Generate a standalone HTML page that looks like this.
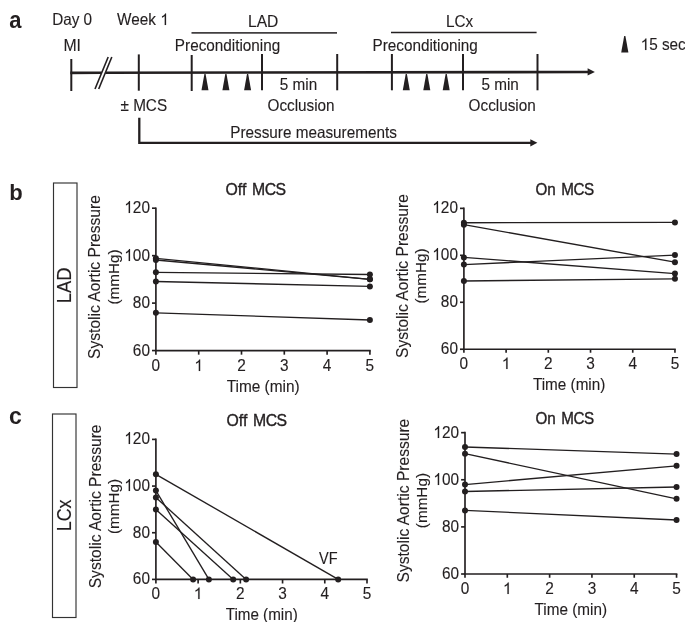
<!DOCTYPE html>
<html><head><meta charset="utf-8"><style>
html,body{margin:0;padding:0;background:#fff;width:685px;height:622px;overflow:hidden}
svg{display:block;will-change:transform}
text{font-family:"Liberation Sans",sans-serif;fill:#231f20;stroke:#231f20;stroke-width:0.12px}
.bold{stroke-width:0}
.one{fill:#231f20;stroke:#231f20;stroke-width:0.12px}
.t15{font-size:15.3px}
.tk{font-size:15.4px}
.yl{font-size:15.6px}
.tm{font-size:15px}
.vf{font-size:14.5px}
.ttl{font-size:15.7px;stroke-width:0.35px}
.box{font-size:18.3px}
.bold{font-weight:bold;font-size:22px}
</style></head><body>
<svg width="685" height="622" viewBox="0 0 685 622">
<g stroke="#231f20" fill="none">
<line x1="70.3" y1="72.85" x2="101.7" y2="72.8" stroke-width="2.6"/>
<line x1="105.4" y1="72.8" x2="588" y2="71.95" stroke-width="2.6"/>
<line x1="95" y1="89" x2="108.2" y2="57" stroke-width="1.6"/>
<line x1="98.7" y1="89" x2="111.8" y2="57" stroke-width="1.6"/>
<g stroke-width="2">
<line x1="71.3" y1="59" x2="71.3" y2="91"/>
<line x1="138.8" y1="54.4" x2="138.8" y2="90.7"/>
<line x1="191.7" y1="55" x2="191.7" y2="91"/>
<line x1="262" y1="54" x2="262" y2="90.3"/>
<line x1="337.2" y1="54" x2="337.2" y2="90.3"/>
<line x1="391.9" y1="54" x2="391.9" y2="90.3"/>
<line x1="463" y1="54" x2="463" y2="90.3"/>
<line x1="537.5" y1="54" x2="537.5" y2="90.3"/>
</g>
<line x1="191.5" y1="32.85" x2="337" y2="32.85" stroke-width="1.7" stroke="#423f41"/>
<line x1="391" y1="32.5" x2="536.6" y2="32.5" stroke-width="1.45"/>
<polyline points="139.3,117.7 139.3,142.8 531,142.8" stroke-width="2.3"/>
</g>
<g fill="#231f20">
<polygon points="587.6,68.2 594.9,71.9 587.6,75.6"/>
<polygon points="530.3,139.2 537.4,142.8 530.3,146.4"/>
<polygon points="204.4,74 205.6,74 208.5,90.3 201.5,90.3"/>
<polygon points="225.3,74 226.5,74 229.4,90.3 222.4,90.3"/>
<polygon points="247,74 248.2,74 251.1,90.3 244.1,90.3"/>
<polygon points="405.7,74 406.9,74 409.8,90.3 402.8,90.3"/>
<polygon points="426.2,74 427.4,74 430.3,90.3 423.3,90.3"/>
<polygon points="445.6,74 446.8,74 449.7,90.3 442.7,90.3"/>
<polygon points="624.2,35.9 625.4,35.9 628.4,52.5 621.2,52.5"/>
</g>
<text class="bold" transform="translate(9.16,27.6) scale(1,1.05)">a</text>
<text class="t15" transform="translate(52.15,24.7) scale(1,1.05)">Day 0</text>
<text class="t15" transform="translate(117,24.8) scale(1,1.05)" style="font-size:15.3px">Week </text><polygon class="one" points="166.06,25 164.72,25 164.72,16 164.23,16.49 162.03,17.67 162.03,16.31 163.11,15.76 164.09,14.98 164.8,14.2 165.18,13.5 166.06,13.5"/>
<text class="t15" transform="translate(63.4,51.1) scale(1,1.05)" style="font-size:15.8px">MI</text>
<text class="t15" transform="translate(248,27) scale(1,1.05)" style="font-size:15.6px">LAD</text>
<text class="t15" transform="translate(446,27) scale(1,1.05)">LCx</text>
<text class="t15" transform="translate(174.85,51) scale(1,1.05)">Preconditioning</text>
<text class="t15" transform="translate(372.5,51) scale(1,1.05)">Preconditioning</text>
<text class="t15" transform="translate(279.8,90) scale(1,1.05)">5 min</text>
<text class="t15" transform="translate(481.4,90) scale(1,1.05)">5 min</text>
<text class="t15" transform="translate(267.5,110.9) scale(1,1.05)">Occlusion</text>
<text class="t15" transform="translate(468.6,110.9) scale(1,1.05)">Occlusion</text>
<text class="t15" transform="translate(120.5,110.7) scale(1,1.05)">± MCS</text>
<text class="t15" transform="translate(230.3,138.3) scale(1,1.05)">Pressure measurements</text>
<polygon class="one" points="646.4,50 645.06,50 645.06,41 644.57,41.49 642.37,42.67 642.37,41.31 643.45,40.76 644.43,39.98 645.14,39.2 645.52,38.5 646.4,38.5"/><text class="t15" transform="translate(649.21,49.9) scale(1,1.05)" style="font-size:15.3px">5 sec</text>
<text class="bold" transform="translate(9.35,200.1) scale(1,1.0)">b</text>
<text class="bold" transform="translate(9.1,423.5) scale(1,1.0)" style="font-size:23px">c</text>
<rect x="53.5" y="183" width="23.5" height="204.5" fill="none" stroke="#333" stroke-width="1.15"/>
<rect x="52.5" y="414" width="23.5" height="203.5" fill="none" stroke="#333" stroke-width="1.15"/>
<text class="box" transform="translate(71.3,303.3) rotate(-90) scale(1,1.05)" style="font-size:18.4px">LAD</text>
<text class="box" transform="translate(70.9,531.3) rotate(-90) scale(1,1.08)" style="font-size:17.9px">LCx</text>
<g stroke="#231f20" fill="none" stroke-width="1.65">
<path d="M155.9,208.2 V350.56 H369.9" stroke-linecap="square"/>
<line x1="152" y1="208.2" x2="155.9" y2="208.2"/>
<line x1="152" y1="255.65" x2="155.9" y2="255.65"/>
<line x1="152" y1="303.11" x2="155.9" y2="303.11"/>
<line x1="152" y1="350.56" x2="155.9" y2="350.56"/>
<line x1="155.9" y1="350.56" x2="155.9" y2="354.66"/>
<line x1="198.7" y1="350.56" x2="198.7" y2="354.66"/>
<line x1="241.5" y1="350.56" x2="241.5" y2="354.66"/>
<line x1="284.3" y1="350.56" x2="284.3" y2="354.66"/>
<line x1="327.1" y1="350.56" x2="327.1" y2="354.66"/>
<line x1="369.9" y1="350.56" x2="369.9" y2="354.66"/>
</g>
<g stroke="#231f20" fill="none" stroke-width="1.35">
<line x1="155.9" y1="258.3" x2="369.9" y2="279.3"/>
<line x1="155.9" y1="260" x2="369.9" y2="279.3"/>
<line x1="155.9" y1="272.3" x2="369.9" y2="274.5"/>
<line x1="155.9" y1="281.5" x2="369.9" y2="286.4"/>
<line x1="155.9" y1="312.8" x2="369.9" y2="320"/>
</g>
<g fill="#231f20">
<circle cx="155.9" cy="258.3" r="3"/>
<circle cx="369.9" cy="279.3" r="3"/>
<circle cx="155.9" cy="260" r="3"/>
<circle cx="369.9" cy="279.3" r="3"/>
<circle cx="155.9" cy="272.3" r="3"/>
<circle cx="369.9" cy="274.5" r="3"/>
<circle cx="155.9" cy="281.5" r="3"/>
<circle cx="369.9" cy="286.4" r="3"/>
<circle cx="155.9" cy="312.8" r="3"/>
<circle cx="369.9" cy="320" r="3"/>
</g>
<polygon class="one" points="130.04,213 128.69,213 128.69,203.69 128.2,204.19 125.98,205.42 125.98,204 127.08,203.44 128.06,202.62 128.77,201.82 129.16,201.09 130.04,201.09"/><text class="tk" transform="translate(132.87,213) scale(1,1.08)" style="font-size:15.4px">20</text>
<polygon class="one" points="130.04,261 128.69,261 128.69,251.69 128.2,252.19 125.98,253.42 125.98,252 127.08,251.44 128.06,250.62 128.77,249.82 129.16,249.09 130.04,249.09"/><text class="tk" transform="translate(132.87,261) scale(1,1.08)" style="font-size:15.4px">00</text>
<text class="tk" transform="translate(132.87,308) scale(1,1.08)" style="font-size:15.4px">80</text>
<text class="tk" transform="translate(132.87,356) scale(1,1.08)" style="font-size:15.4px">60</text>
<text class="tk" transform="translate(151.62,370.56) scale(1,1.05)" style="font-size:15.4px">0</text>
<polygon class="one" points="200.16,371 198.8,371 198.8,361.94 198.31,362.43 196.1,363.63 196.1,362.25 197.19,361.7 198.18,360.91 198.88,360.13 199.27,359.42 200.16,359.42"/>
<text class="tk" transform="translate(237.22,370.56) scale(1,1.05)" style="font-size:15.4px">2</text>
<text class="tk" transform="translate(280.02,370.56) scale(1,1.05)" style="font-size:15.4px">3</text>
<text class="tk" transform="translate(322.82,370.56) scale(1,1.05)" style="font-size:15.4px">4</text>
<text class="tk" transform="translate(365.62,370.56) scale(1,1.05)" style="font-size:15.4px">5</text>
<text class="ttl" transform="translate(225.5,194.6) scale(1,1.05)" style="font-size:15.8px;word-spacing:1.3px">Off <tspan style="letter-spacing:-0.45px">MCS</tspan></text>
<text class="tm" transform="translate(226.7,391.8) scale(1,1.1)" style="font-size:15.4px">Time (min)</text>
<text class="yl" text-anchor="middle" transform="translate(100,277) rotate(-90)">Systolic Aortic Pressure</text>
<text class="t15" text-anchor="middle" transform="translate(119,277) rotate(-90)">(mmHg)</text>
<g stroke="#231f20" fill="none" stroke-width="1.65">
<path d="M463.9,208.37 V349.24 H674.95" stroke-linecap="square"/>
<line x1="460" y1="208.37" x2="463.9" y2="208.37"/>
<line x1="460" y1="255.33" x2="463.9" y2="255.33"/>
<line x1="460" y1="302.28" x2="463.9" y2="302.28"/>
<line x1="460" y1="349.24" x2="463.9" y2="349.24"/>
<line x1="463.9" y1="349.24" x2="463.9" y2="352.74"/>
<line x1="506.11" y1="349.24" x2="506.11" y2="352.74"/>
<line x1="548.32" y1="349.24" x2="548.32" y2="352.74"/>
<line x1="590.53" y1="349.24" x2="590.53" y2="352.74"/>
<line x1="632.74" y1="349.24" x2="632.74" y2="352.74"/>
<line x1="674.95" y1="349.24" x2="674.95" y2="352.74"/>
</g>
<g stroke="#231f20" fill="none" stroke-width="1.35">
<line x1="463.9" y1="222.7" x2="674.95" y2="222.4"/>
<line x1="463.9" y1="224.7" x2="674.95" y2="262.2"/>
<line x1="463.9" y1="257.4" x2="674.95" y2="273.6"/>
<line x1="463.9" y1="264.6" x2="674.95" y2="255.1"/>
<line x1="463.9" y1="281" x2="674.95" y2="278.8"/>
</g>
<g fill="#231f20">
<circle cx="463.9" cy="222.7" r="3"/>
<circle cx="674.95" cy="222.4" r="3"/>
<circle cx="463.9" cy="224.7" r="3"/>
<circle cx="674.95" cy="262.2" r="3"/>
<circle cx="463.9" cy="257.4" r="3"/>
<circle cx="674.95" cy="273.6" r="3"/>
<circle cx="463.9" cy="264.6" r="3"/>
<circle cx="674.95" cy="255.1" r="3"/>
<circle cx="463.9" cy="281" r="3"/>
<circle cx="674.95" cy="278.8" r="3"/>
</g>
<polygon class="one" points="438.04,213 436.69,213 436.69,203.69 436.2,204.19 433.98,205.42 433.98,204 435.08,203.44 436.06,202.62 436.77,201.82 437.16,201.09 438.04,201.09"/><text class="tk" transform="translate(440.87,213) scale(1,1.08)" style="font-size:15.4px">20</text>
<polygon class="one" points="438.04,260 436.69,260 436.69,250.69 436.2,251.19 433.98,252.42 433.98,251 435.08,250.44 436.06,249.62 436.77,248.82 437.16,248.09 438.04,248.09"/><text class="tk" transform="translate(440.87,260) scale(1,1.08)" style="font-size:15.4px">00</text>
<text class="tk" transform="translate(440.87,307) scale(1,1.08)" style="font-size:15.4px">80</text>
<text class="tk" transform="translate(440.87,354) scale(1,1.08)" style="font-size:15.4px">60</text>
<text class="tk" transform="translate(459.62,369.24) scale(1,1.05)" style="font-size:15.4px">0</text>
<polygon class="one" points="507.57,369 506.21,369 506.21,359.94 505.72,360.43 503.51,361.63 503.51,360.25 504.6,359.7 505.59,358.91 506.29,358.13 506.68,357.42 507.57,357.42"/>
<text class="tk" transform="translate(544.04,369.24) scale(1,1.05)" style="font-size:15.4px">2</text>
<text class="tk" transform="translate(586.25,369.24) scale(1,1.05)" style="font-size:15.4px">3</text>
<text class="tk" transform="translate(628.46,369.24) scale(1,1.05)" style="font-size:15.4px">4</text>
<text class="tk" transform="translate(670.67,369.24) scale(1,1.05)" style="font-size:15.4px">5</text>
<text class="ttl" transform="translate(535.5,194.7) scale(1,1.05)" style="font-size:15.2px;word-spacing:1.3px">On <tspan style="letter-spacing:-0.45px">MCS</tspan></text>
<text class="tm" transform="translate(532.9,389.8) scale(1,1.07)" style="font-size:15.3px">Time (min)</text>
<text class="yl" text-anchor="middle" transform="translate(407.7,276) rotate(-90)">Systolic Aortic Pressure</text>
<text class="t15" text-anchor="middle" transform="translate(425.8,276) rotate(-90)">(mmHg)</text>
<g stroke="#231f20" fill="none" stroke-width="1.65">
<path d="M155.9,439.4 V579.4 H367" stroke-linecap="square"/>
<line x1="152" y1="439.4" x2="155.9" y2="439.4"/>
<line x1="152" y1="486.07" x2="155.9" y2="486.07"/>
<line x1="152" y1="532.73" x2="155.9" y2="532.73"/>
<line x1="152" y1="579.4" x2="155.9" y2="579.4"/>
<line x1="155.9" y1="579.4" x2="155.9" y2="583.5"/>
<line x1="198.12" y1="579.4" x2="198.12" y2="583.5"/>
<line x1="240.34" y1="579.4" x2="240.34" y2="583.5"/>
<line x1="282.56" y1="579.4" x2="282.56" y2="583.5"/>
<line x1="324.78" y1="579.4" x2="324.78" y2="583.5"/>
<line x1="367" y1="579.4" x2="367" y2="583.5"/>
</g>
<g stroke="#231f20" fill="none" stroke-width="1.35">
<line x1="155.9" y1="474.3" x2="338.2" y2="579.4"/>
<line x1="155.9" y1="490.6" x2="208.9" y2="579.4"/>
<line x1="155.9" y1="497.5" x2="246.1" y2="579.4"/>
<line x1="155.9" y1="509.4" x2="233.2" y2="579.4"/>
<line x1="155.9" y1="542.1" x2="193.1" y2="579.4"/>
</g>
<g fill="#231f20">
<circle cx="155.9" cy="474.3" r="3"/>
<circle cx="338.2" cy="579.4" r="3"/>
<circle cx="155.9" cy="490.6" r="3"/>
<circle cx="208.9" cy="579.4" r="3"/>
<circle cx="155.9" cy="497.5" r="3"/>
<circle cx="246.1" cy="579.4" r="3"/>
<circle cx="155.9" cy="509.4" r="3"/>
<circle cx="233.2" cy="579.4" r="3"/>
<circle cx="155.9" cy="542.1" r="3"/>
<circle cx="193.1" cy="579.4" r="3"/>
</g>
<polygon class="one" points="130.04,444 128.69,444 128.69,434.69 128.2,435.19 125.98,436.42 125.98,435 127.08,434.44 128.06,433.62 128.77,432.82 129.16,432.09 130.04,432.09"/><text class="tk" transform="translate(132.87,444) scale(1,1.08)" style="font-size:15.4px">20</text>
<polygon class="one" points="130.04,491 128.69,491 128.69,481.69 128.2,482.19 125.98,483.42 125.98,482 127.08,481.44 128.06,480.62 128.77,479.82 129.16,479.09 130.04,479.09"/><text class="tk" transform="translate(132.87,491) scale(1,1.08)" style="font-size:15.4px">00</text>
<text class="tk" transform="translate(132.87,538) scale(1,1.08)" style="font-size:15.4px">80</text>
<text class="tk" transform="translate(132.87,584) scale(1,1.08)" style="font-size:15.4px">60</text>
<text class="tk" transform="translate(151.62,599.4) scale(1,1.05)" style="font-size:15.4px">0</text>
<polygon class="one" points="199.58,599 198.22,599 198.22,589.94 197.73,590.43 195.52,591.63 195.52,590.25 196.61,589.7 197.6,588.91 198.3,588.13 198.69,587.42 199.58,587.42"/>
<text class="tk" transform="translate(236.06,599.4) scale(1,1.05)" style="font-size:15.4px">2</text>
<text class="tk" transform="translate(278.28,599.4) scale(1,1.05)" style="font-size:15.4px">3</text>
<text class="tk" transform="translate(320.5,599.4) scale(1,1.05)" style="font-size:15.4px">4</text>
<text class="tk" transform="translate(362.72,599.4) scale(1,1.05)" style="font-size:15.4px">5</text>
<text class="ttl" transform="translate(226.5,425.9) scale(1,1.05)" style="font-size:15.8px;word-spacing:1.3px">Off <tspan style="letter-spacing:-0.45px">MCS</tspan></text>
<text class="tm" transform="translate(225.7,620) scale(1,1.07)" style="font-size:15.2px">Time (min)</text>
<text class="yl" text-anchor="middle" transform="translate(101,506.4) rotate(-90)">Systolic Aortic Pressure</text>
<text class="t15" text-anchor="middle" transform="translate(119.1,506.4) rotate(-90)">(mmHg)</text>
<text class="vf" transform="translate(319,564) scale(1,1.1)">VF</text>
<g stroke="#231f20" fill="none" stroke-width="1.65">
<path d="M465,432.66 V574 H676.55" stroke-linecap="square"/>
<line x1="461.1" y1="432.66" x2="465" y2="432.66"/>
<line x1="461.1" y1="479.77" x2="465" y2="479.77"/>
<line x1="461.1" y1="526.89" x2="465" y2="526.89"/>
<line x1="461.1" y1="574" x2="465" y2="574"/>
<line x1="465" y1="574" x2="465" y2="577.75"/>
<line x1="507.31" y1="574" x2="507.31" y2="577.75"/>
<line x1="549.62" y1="574" x2="549.62" y2="577.75"/>
<line x1="591.93" y1="574" x2="591.93" y2="577.75"/>
<line x1="634.24" y1="574" x2="634.24" y2="577.75"/>
<line x1="676.55" y1="574" x2="676.55" y2="577.75"/>
</g>
<g stroke="#231f20" fill="none" stroke-width="1.35">
<line x1="465" y1="447" x2="676.55" y2="454.1"/>
<line x1="465" y1="453.7" x2="676.55" y2="498.8"/>
<line x1="465" y1="484.6" x2="676.55" y2="465.8"/>
<line x1="465" y1="491.5" x2="676.55" y2="487"/>
<line x1="465" y1="510.4" x2="676.55" y2="520"/>
</g>
<g fill="#231f20">
<circle cx="465" cy="447" r="3"/>
<circle cx="676.55" cy="454.1" r="3"/>
<circle cx="465" cy="453.7" r="3"/>
<circle cx="676.55" cy="498.8" r="3"/>
<circle cx="465" cy="484.6" r="3"/>
<circle cx="676.55" cy="465.8" r="3"/>
<circle cx="465" cy="491.5" r="3"/>
<circle cx="676.55" cy="487" r="3"/>
<circle cx="465" cy="510.4" r="3"/>
<circle cx="676.55" cy="520" r="3"/>
</g>
<polygon class="one" points="439.14,438 437.79,438 437.79,428.69 437.3,429.19 435.08,430.42 435.08,429 436.18,428.44 437.16,427.62 437.87,426.82 438.26,426.09 439.14,426.09"/><text class="tk" transform="translate(441.97,438) scale(1,1.08)" style="font-size:15.4px">20</text>
<polygon class="one" points="439.14,485 437.79,485 437.79,475.69 437.3,476.19 435.08,477.42 435.08,476 436.18,475.44 437.16,474.62 437.87,473.82 438.26,473.09 439.14,473.09"/><text class="tk" transform="translate(441.97,485) scale(1,1.08)" style="font-size:15.4px">00</text>
<text class="tk" transform="translate(441.97,532) scale(1,1.08)" style="font-size:15.4px">80</text>
<text class="tk" transform="translate(441.97,579) scale(1,1.08)" style="font-size:15.4px">60</text>
<text class="tk" transform="translate(460.72,594) scale(1,1.05)" style="font-size:15.4px">0</text>
<polygon class="one" points="508.77,594 507.41,594 507.41,584.94 506.92,585.43 504.71,586.63 504.71,585.25 505.8,584.7 506.79,583.91 507.49,583.13 507.88,582.42 508.77,582.42"/>
<text class="tk" transform="translate(545.34,594) scale(1,1.05)" style="font-size:15.4px">2</text>
<text class="tk" transform="translate(587.65,594) scale(1,1.05)" style="font-size:15.4px">3</text>
<text class="tk" transform="translate(629.96,594) scale(1,1.05)" style="font-size:15.4px">4</text>
<text class="tk" transform="translate(672.27,594) scale(1,1.05)" style="font-size:15.4px">5</text>
<text class="ttl" transform="translate(535.5,424.1) scale(1,1.05)" style="font-size:15.2px;word-spacing:1.3px">On <tspan style="letter-spacing:-0.45px">MCS</tspan></text>
<text class="tm" transform="translate(534.6,615) scale(1,1.06)" style="font-size:15.3px">Time (min)</text>
<text class="yl" text-anchor="middle" transform="translate(409.1,500.6) rotate(-90)">Systolic Aortic Pressure</text>
<text class="t15" text-anchor="middle" transform="translate(427.2,500.6) rotate(-90)">(mmHg)</text>
</svg>
</body></html>
